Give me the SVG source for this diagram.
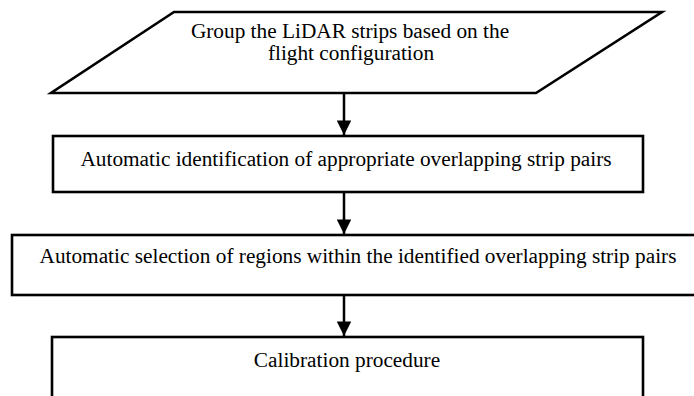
<svg xmlns="http://www.w3.org/2000/svg" width="694" height="396" viewBox="0 0 694 396">
<defs>
<style>
.shape{fill:#fff;stroke:#000;stroke-width:2.6}
.t{font-family:"Liberation Serif","Times New Roman",serif;font-size:21.3px;fill:#000;text-anchor:middle}
.conn{stroke:#000;stroke-width:2.5;fill:none}
</style>
<marker id="ah" viewBox="0 0 10 10" refX="10" refY="5" markerWidth="6.4" markerHeight="5.8" markerUnits="strokeWidth" orient="auto">
<path d="M0,0 L10,5 L0,10 Z" fill="#000"/>
</marker>
</defs>
<rect width="694" height="396" fill="#fff"/>
<g id="node1">
<polygon class="shape" points="174,12 662,12 536,93 51,93"/>
<text class="t" x="350" y="38">Group the LiDAR strips based on the</text>
<text class="t" x="351" y="60">flight configuration</text>
</g>
<g id="node2">
<rect class="shape" x="53" y="136" width="590" height="56"/>
<text class="t" x="346" y="166">Automatic identification of appropriate overlapping strip pairs</text>
</g>
<g id="node3">
<rect class="shape" x="12" y="235" width="700" height="60"/>
<text class="t" x="358" y="263">Automatic selection of regions within the identified overlapping strip pairs</text>
</g>
<g id="node4">
<rect class="shape" x="52" y="337" width="591" height="80"/>
<text class="t" x="347" y="367">Calibration procedure</text>
</g>
<g id="connectors">
<line class="conn" x1="344" y1="93" x2="344" y2="135" marker-end="url(#ah)"/>
<line class="conn" x1="344" y1="192" x2="344" y2="234" marker-end="url(#ah)"/>
<line class="conn" x1="344" y1="295" x2="344" y2="336" marker-end="url(#ah)"/>
</g>
</svg>
